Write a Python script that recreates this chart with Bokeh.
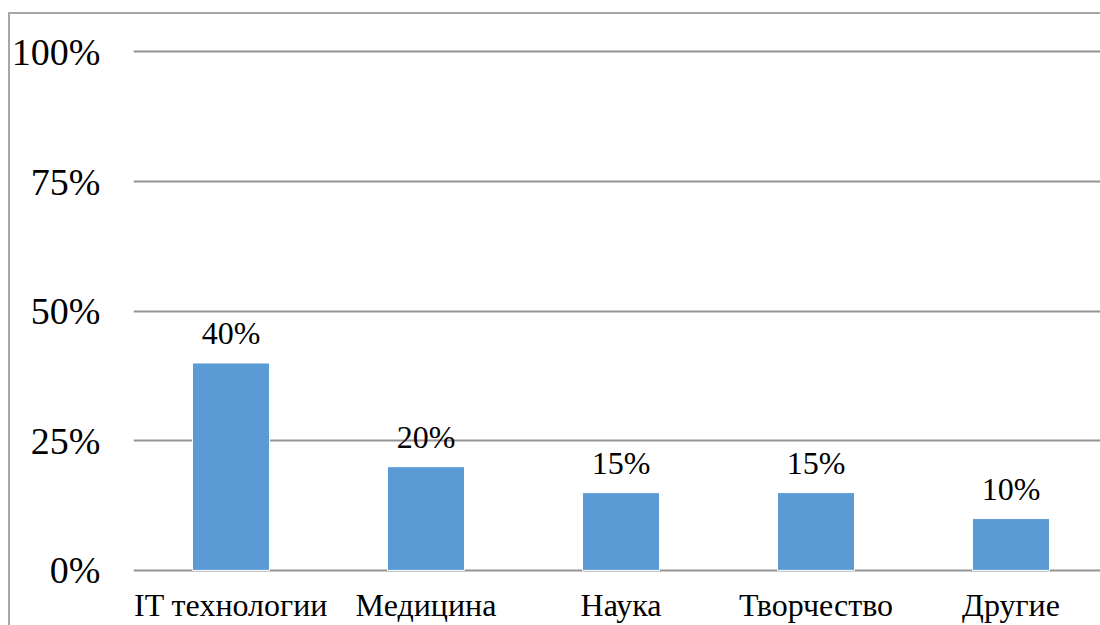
from bokeh.plotting import figure
from bokeh.models import ColumnDataSource, FixedTicker, PrintfTickFormatter, Range1d
from bokeh.embed import file_html
from bokeh.resources import INLINE
from bokeh.core.properties import value

# ---- data ----
categories = ["IT технологии", "Медицина", "Наука", "Творчество", "Другие"]
shares = [40, 20, 15, 15, 10]
share_labels = ["40%", "20%", "15%", "15%", "10%"]
y_ticks = [0, 25, 50, 75, 100]

positions = [i + 0.5 for i in range(len(categories))]
source = ColumnDataSource(dict(x=positions, y=shares, label=share_labels))

FONT = "Liberation Serif"

p = figure(
    width=1100, height=625,
    x_range=Range1d(0, 4.959), y_range=Range1d(-0.6, 102),
    output_backend="svg", toolbar_location=None,
    min_border_left=133, min_border_right=0,
    min_border_top=41, min_border_bottom=51,
)
p.border_fill_color = None
p.background_fill_color = "#ffffff"
p.outline_line_color = None
p.styles = {"box-shadow": "inset 8px 12px 0 0 #ffffff, inset 10px 14px 0 0 #a6a6a6"}

p.vbar(x="x", top="y", bottom=0, width=0.395, source=source,
       fill_color="#5B9BD5", line_color="#ffffff", line_width=1)

p.text(x="x", y="y", text="label", source=source,
       text_font=value(FONT), text_font_size="32px", text_color="#000000",
       text_align="center", text_baseline="alphabetic", y_offset=-30)

# y axis
p.yaxis.ticker = FixedTicker(ticks=y_ticks)
p.yaxis.formatter = PrintfTickFormatter(format="%d%%")
p.yaxis.axis_line_color = None
p.yaxis.major_tick_line_color = None
p.yaxis.minor_tick_line_color = None
p.yaxis.major_label_standoff = 27
p.yaxis.major_label_text_font = FONT
p.yaxis.major_label_text_font_size = "38px"
p.yaxis.major_label_text_color = "#000000"

# x axis
p.xaxis.ticker = FixedTicker(ticks=positions)
p.xaxis.major_label_overrides = {pos: cat for pos, cat in zip(positions, categories)}
p.xaxis.axis_line_color = None
p.xaxis.major_tick_line_color = None
p.xaxis.minor_tick_line_color = None
p.xaxis.major_label_standoff = 7
p.xaxis.major_label_text_font = FONT
p.xaxis.major_label_text_font_size = "32px"
p.xaxis.major_label_text_color = "#000000"

# grid
p.xgrid.grid_line_color = None
p.ygrid.ticker = FixedTicker(ticks=y_ticks)
p.ygrid.grid_line_color = "#949494"
p.ygrid.grid_line_width = 2

open("out.html", "w").write(file_html(p, INLINE))
